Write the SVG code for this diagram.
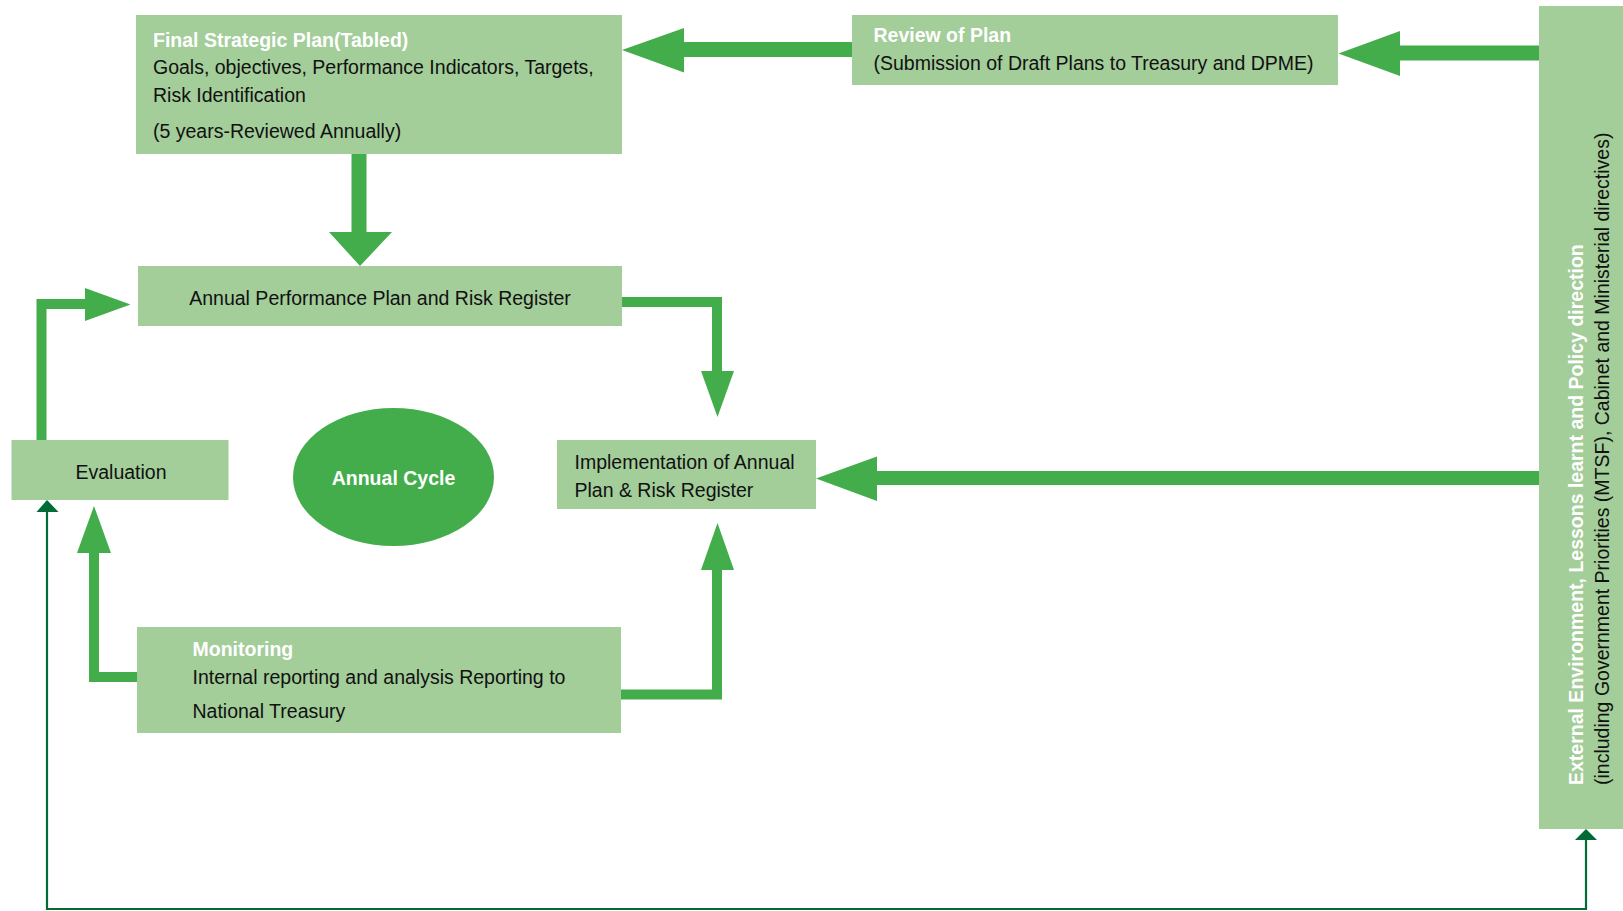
<svg xmlns="http://www.w3.org/2000/svg" width="1623" height="911" viewBox="0 0 1623 911">
<style>
.box{fill:#a3cd99}
.t{font-family:"Liberation Sans",Arial,sans-serif;font-size:19.5px;fill:#111}
.h{font-family:"Liberation Sans",Arial,sans-serif;font-size:19.5px;font-weight:bold;fill:#fff}
.shaft{fill:none;stroke:#42ad4a;stroke-linejoin:miter;stroke-linecap:butt}
.head{fill:#42ad4a}
.thin{fill:none;stroke:#006b35;stroke-width:2.2}
.thinhead{fill:#006b35}
</style>
<rect width="1623" height="911" fill="#fff"/>
<g id="connectors">
  <line class="shaft" x1="359" y1="153" x2="359" y2="233" stroke-width="15"/>
  <polygon class="head" points="329,232 392,232 360,266"/>
  <line class="shaft" x1="683" y1="49.5" x2="852" y2="49.5" stroke-width="15"/>
  <polygon class="head" points="684,28 684,72.5 622,50"/>
  <line class="shaft" x1="1399" y1="53" x2="1540" y2="53" stroke-width="15"/>
  <polygon class="head" points="1400,31 1400,76 1338.5,53.5"/>
  <polyline class="shaft" points="621,302 717,302 717,372" stroke-width="10"/>
  <polygon class="head" points="701,371 734,371 717.5,417"/>
  <polyline class="shaft" points="41.5,440 41.5,304 86,304" stroke-width="10"/>
  <polygon class="head" points="85,288 85,321 130.5,304.5"/>
  <polyline class="shaft" points="137,677 94,677 94,552" stroke-width="10"/>
  <polygon class="head" points="77,553 111,553 94,506"/>
  <polyline class="shaft" points="621,694.5 717,694.5 717,569" stroke-width="10"/>
  <polygon class="head" points="701,570 734,570 717.5,523"/>
  <line class="shaft" x1="876" y1="478" x2="1540" y2="478" stroke-width="14"/>
  <polygon class="head" points="877,456.5 877,501 816,478.5"/>
  <polyline class="thin" points="1586,839 1586,909 47,909 47,511"/>
  <polygon class="thinhead" points="36.5,512 58.5,512 47,500"/>
  <polygon class="thinhead" points="1575,840 1597,840 1586,829"/>
</g>
<g id="final-strategic-plan">
  <rect class="box" x="136" y="15" width="486" height="139"/>
  <text class="h" x="153" y="47">Final Strategic Plan(Tabled)</text>
  <text class="t" x="153" y="74">Goals, objectives, Performance Indicators, Targets,</text>
  <text class="t" x="153" y="102">Risk Identification</text>
  <text class="t" x="153" y="138">(5 years-Reviewed Annually)</text>
</g>
<g id="review-of-plan">
  <rect class="box" x="852" y="15" width="486" height="70"/>
  <text class="h" x="873.5" y="42">Review of Plan</text>
  <text class="t" x="873.5" y="70">(Submission of Draft Plans to Treasury and DPME)</text>
</g>
<g id="annual-performance-plan">
  <rect class="box" x="138" y="266" width="484" height="60"/>
  <text class="t" x="380" y="304.5" text-anchor="middle">Annual Performance Plan and Risk Register</text>
</g>
<g id="evaluation">
  <rect class="box" x="11.5" y="440" width="217" height="60"/>
  <text class="t" x="121" y="478.5" text-anchor="middle">Evaluation</text>
</g>
<g id="annual-cycle">
  <ellipse cx="393.5" cy="477" rx="100.5" ry="69" fill="#42ad4a"/>
  <text class="h" x="393.5" y="485" text-anchor="middle">Annual Cycle</text>
</g>
<g id="implementation">
  <rect class="box" x="557" y="440" width="259" height="69"/>
  <text class="t" x="574.5" y="469">Implementation of Annual</text>
  <text class="t" x="574.5" y="497">Plan &amp; Risk Register</text>
</g>
<g id="monitoring">
  <rect class="box" x="137" y="627" width="484" height="106"/>
  <text class="h" x="192.5" y="655.5">Monitoring</text>
  <text class="t" x="192.5" y="683.5">Internal reporting and analysis Reporting to</text>
  <text class="t" x="192.5" y="718">National Treasury</text>
</g>
<g id="external-environment">
  <rect class="box" x="1539" y="6" width="84" height="823"/>
  <text class="h" transform="translate(1583,785) rotate(-90)">External Environment, Lessons learnt and Policy direction</text>
  <text class="t" transform="translate(1609,785) rotate(-90)">(including Government Priorities (MTSF), Cabinet and Ministerial directives)</text>
</g>
</svg>
